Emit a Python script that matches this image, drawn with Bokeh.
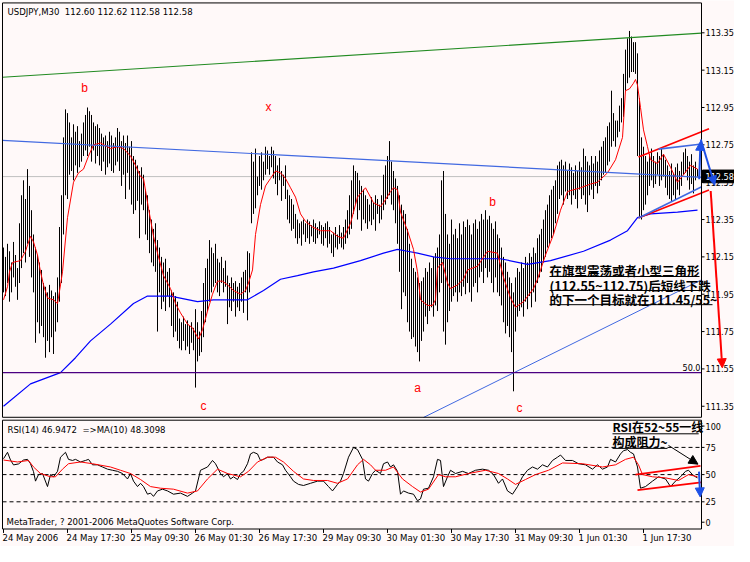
from bokeh.plotting import figure
from bokeh.models import Range1d, ColumnDataSource, Arrow, NormalHead
from bokeh.embed import file_html
from bokeh.resources import INLINE
from bokeh.core.properties import value

# ---------------- data ----------------
symbol = "USDJPY,M30"
quote = [112.60, 112.62, 112.58, 112.58]          # open high low close of last bar
rsi_last = 46.9472
rsima_last = 48.3098

highs = [
 112.20, 112.15, 112.22, 112.18, 112.12, 112.23, 112.16, 112.09, 112.33, 112.48,
 112.56, 112.46, 112.62, 112.53, 112.40, 112.27, 112.20, 112.16, 112.12, 112.08,
 112.01, 111.99, 111.96, 112.00, 111.97, 111.94, 111.96, 112.04, 112.31, 112.48,
 112.79, 112.94, 112.92, 112.87, 112.79, 112.86, 112.82, 112.85, 112.77, 112.81,
 112.87, 112.91, 112.95, 112.93, 112.91, 112.87, 112.85, 112.86, 112.84, 112.81,
 112.79, 112.80, 112.77, 112.82, 112.80, 112.76, 112.79, 112.84, 112.82, 112.77,
 112.80, 112.76, 112.80, 112.74, 112.77, 112.69, 112.67, 112.64, 112.61, 112.63,
 112.59, 112.51, 112.48, 112.40, 112.35, 112.30, 112.33, 112.24, 112.20, 112.15,
 112.12, 112.14, 112.07, 112.09, 111.97, 111.96, 111.94, 111.91, 111.82, 111.80,
 111.83, 111.79, 111.81, 111.78, 111.80, 111.77, 111.87, 111.80, 111.75, 111.86,
 112.01, 112.09, 112.14, 112.24, 112.20, 112.17, 112.22, 112.14, 112.12, 112.15,
 112.09, 112.13, 112.05, 112.01, 112.04, 112.01, 112.02, 111.99, 112.01, 112.04,
 112.07, 112.08, 112.18, 112.17, 112.71, 112.66, 112.73, 112.58, 112.69, 112.71,
 112.66, 112.74, 112.72, 112.69, 112.74, 112.72, 112.69, 112.64, 112.68, 112.61,
 112.59, 112.64, 112.51, 112.48, 112.46, 112.43, 112.38, 112.35, 112.33, 112.34,
 112.35, 112.33, 112.35, 112.34, 112.32, 112.35, 112.33, 112.31, 112.34, 112.32,
 112.31, 112.33, 112.34, 112.31, 112.27, 112.28, 112.31, 112.27, 112.32, 112.28,
 112.31, 112.35, 112.40, 112.48, 112.56, 112.64, 112.61, 112.60, 112.56, 112.53,
 112.51, 112.48, 112.46, 112.43, 112.47, 112.44, 112.48, 112.46, 112.43, 112.48,
 112.59, 112.64, 112.69, 112.77, 112.66, 112.61, 112.57, 112.53, 112.48, 112.43,
 112.40, 112.38, 112.30, 112.22, 112.14, 112.09, 112.07, 112.04, 112.01, 112.02,
 112.04, 112.09, 112.07, 112.12, 112.09, 112.15, 112.17, 112.20, 112.27, 112.56,
 112.61, 112.38, 112.27, 112.22, 112.35, 112.27, 112.30, 112.25, 112.33, 112.27,
 112.34, 112.31, 112.35, 112.32, 112.27, 112.33, 112.35, 112.30, 112.34, 112.38,
 112.35, 112.40, 112.35, 112.37, 112.33, 112.30, 112.34, 112.27, 112.25, 112.20,
 112.15, 112.12, 112.07, 112.04, 112.01, 111.96, 112.04, 112.09, 112.07, 112.12,
 112.09, 112.15, 112.12, 112.17, 112.15, 112.20, 112.17, 112.25, 112.27, 112.30,
 112.35, 112.40, 112.43, 112.48, 112.51, 112.53, 112.56, 112.64, 112.66, 112.67,
 112.64, 112.66, 112.61, 112.65, 112.63, 112.60, 112.64, 112.61, 112.66, 112.63,
 112.73, 112.69, 112.66, 112.64, 112.69, 112.65, 112.69, 112.66, 112.72, 112.74,
 112.77, 112.79, 112.85, 112.87, 113.04, 112.92, 112.88, 112.88, 112.96, 113.00,
 113.13, 113.26, 113.32, 113.36, 113.33, 113.30, 113.30, 113.24, 113.00, 112.79,
 112.74, 112.69, 112.66, 112.70, 112.73, 112.69, 112.66, 112.71, 112.69, 112.73,
 112.70, 112.67, 112.64, 112.61, 112.65, 112.60, 112.63, 112.65, 112.61, 112.66,
 112.71, 112.73, 112.69, 112.66, 112.70, 112.64, 112.66, 112.62]

lows = [
 111.96, 111.94, 112.01, 111.91, 111.96, 112.04, 111.99, 111.92, 112.01, 112.09,
 112.17, 112.12, 112.22, 112.15, 112.04, 111.96, 111.69, 111.80, 111.74, 111.78,
 111.72, 111.61, 111.70, 111.64, 111.72, 111.63, 111.75, 111.80, 111.91, 112.01,
 112.27, 112.48, 112.46, 112.59, 112.61, 112.56, 112.64, 112.60, 112.63, 112.66,
 112.69, 112.72, 112.69, 112.74, 112.66, 112.72, 112.65, 112.69, 112.64, 112.61,
 112.66, 112.59, 112.63, 112.65, 112.61, 112.60, 112.64, 112.66, 112.61, 112.53,
 112.59, 112.46, 112.60, 112.51, 112.43, 112.38, 112.40, 112.45, 112.25, 112.43,
 112.40, 112.27, 112.24, 112.17, 112.12, 112.10, 112.07, 111.75, 111.96, 111.87,
 111.91, 111.86, 111.94, 111.88, 111.78, 111.72, 111.75, 111.70, 111.66, 111.65,
 111.70, 111.65, 111.67, 111.63, 111.69, 111.65, 111.45, 111.59, 111.62, 111.64,
 111.72, 111.80, 111.86, 111.91, 111.96, 111.99, 112.01, 111.96, 111.94, 112.01,
 111.96, 111.99, 111.79, 111.88, 111.86, 111.91, 111.83, 111.88, 111.86, 111.91,
 111.85, 111.96, 111.81, 111.96, 112.33, 112.38, 112.41, 112.48, 112.53, 112.51,
 112.56, 112.59, 112.62, 112.59, 112.63, 112.57, 112.54, 112.48, 112.56, 112.45,
 112.53, 112.46, 112.35, 112.33, 112.29, 112.30, 112.25, 112.22, 112.25, 112.21,
 112.27, 112.23, 112.25, 112.22, 112.26, 112.23, 112.22, 112.25, 112.27, 112.22,
 112.21, 112.25, 112.20, 112.22, 112.17, 112.15, 112.20, 112.19, 112.22, 112.20,
 112.19, 112.22, 112.25, 112.27, 112.30, 112.38, 112.43, 112.35, 112.40, 112.29,
 112.35, 112.33, 112.30, 112.34, 112.32, 112.35, 112.29, 112.38, 112.33, 112.35,
 112.40, 112.43, 112.46, 112.48, 112.43, 112.40, 112.33, 112.22, 112.07, 111.87,
 111.96, 111.94, 111.80, 111.75, 111.71, 111.72, 111.67, 111.64, 111.59, 111.70,
 111.75, 111.83, 111.79, 111.86, 111.88, 111.83, 111.89, 111.86, 111.96, 112.01,
 111.75, 111.68, 111.80, 111.86, 111.91, 111.94, 111.96, 111.91, 111.96, 111.94,
 111.99, 111.95, 112.01, 111.96, 111.91, 111.99, 112.01, 111.96, 112.04, 112.07,
 112.01, 112.09, 112.04, 112.07, 112.01, 111.96, 112.04, 111.96, 111.94, 111.89,
 111.80, 111.74, 111.78, 111.72, 111.64, 111.43, 111.75, 111.83, 111.86, 111.88,
 111.83, 111.91, 111.87, 111.94, 111.88, 111.96, 111.91, 112.01, 112.04, 112.07,
 112.12, 112.15, 112.20, 112.22, 112.25, 112.27, 112.33, 112.38, 112.46, 112.48,
 112.43, 112.50, 112.46, 112.48, 112.43, 112.48, 112.46, 112.41, 112.51, 112.46,
 112.48, 112.43, 112.39, 112.48, 112.51, 112.46, 112.53, 112.49, 112.53, 112.56,
 112.59, 112.60, 112.64, 112.66, 112.74, 112.77, 112.74, 112.79, 112.82, 112.87,
 112.90, 113.04, 113.08, 113.11, 113.14, 113.14, 113.13, 112.69, 112.36, 112.35,
 112.40, 112.43, 112.48, 112.53, 112.56, 112.52, 112.54, 112.59, 112.53, 112.56,
 112.58, 112.52, 112.48, 112.46, 112.45, 112.48, 112.46, 112.51, 112.48, 112.53,
 112.59, 112.60, 112.56, 112.51, 112.54, 112.49, 112.56, 112.58]

# red moving average (bar index, price)
ma_red_i = [0, 2, 3, 4.5, 8.5, 11, 13.5, 15, 17, 18.5, 20, 22, 25, 27, 28.5, 29.5, 32, 35, 37.5, 40,
            42.5, 45, 48.5, 53.5, 57, 60, 63.5, 66, 68.5, 70, 72.5, 75, 77, 80, 83.5, 86, 88.5, 92, 94.5, 97.5,
            99.5, 102, 104.5, 107, 109.5, 112, 115, 118.5, 121, 122.5, 124.5, 126, 128.5, 131, 133.5, 136, 138.5, 141, 143.5, 146,
            148.5, 151, 154.5, 158.5, 163.5, 167, 170, 173.5, 177, 181, 185, 188.5, 190, 193.5, 195, 197, 198.5, 202, 205, 207,
            208.5, 212, 214.5, 216, 217, 219.5, 222, 223.5, 227, 230, 232, 237, 242, 247, 250, 253.5, 256, 260, 265, 267,
            271, 275, 278.5, 282, 288.5, 293.5, 297, 302, 306, 309.5, 311, 313, 315, 316, 317, 318.5, 320, 322, 323.5, 327,
            330, 333.5, 337, 340, 343.5, 347]
ma_red_v = [111.92, 111.99, 112.07, 112.12, 112.13, 112.18, 112.26, 112.23, 112.16, 112.07,
            112.00, 111.93, 111.92, 111.90, 112.00, 112.07, 112.36, 112.55, 112.60, 112.62,
            112.69, 112.75, 112.76, 112.73, 112.74, 112.73, 112.69, 112.64, 112.58, 112.57,
            112.41, 112.26, 112.17, 112.05, 111.98, 111.90, 111.85, 111.79, 111.77, 111.71,
            111.76, 111.86, 111.95, 112.02, 112.02, 112.00, 111.97, 111.95, 111.97, 112.01,
            112.08, 112.27, 112.43, 112.53, 112.57, 112.61, 112.60, 112.57, 112.52, 112.47,
            112.38, 112.34, 112.31, 112.29, 112.29, 112.26, 112.25, 112.33, 112.47, 112.52,
            112.44, 112.42, 112.44, 112.50, 112.52, 112.51, 112.39, 112.29, 112.19, 112.07,
            111.92, 111.89, 111.89, 111.92, 112.09, 112.12, 112.01, 111.98, 112.00, 112.03,
            112.08, 112.10, 112.18, 112.17, 112.04, 111.93, 111.88, 111.91, 111.98, 112.03,
            112.16, 112.27, 112.40, 112.50, 112.52, 112.54, 112.55, 112.60, 112.67, 112.79,
            113.04, 113.05, 113.08, 113.10, 113.07, 112.95, 112.83, 112.74, 112.67, 112.65,
            112.70, 112.63, 112.55, 112.59, 112.64, 112.62]

# blue (slow) moving average
ma_blue_i = [0, 13.5, 28.5, 36, 43.5, 53.5, 65, 72, 83.5, 97, 105, 122, 130, 138.5, 147, 155, 165, 178.5,
             190, 197, 202, 207, 215, 223.5, 240, 248.5, 262, 273.5, 290, 303.5, 312, 317, 323.5, 337, 347]
ma_blue_v = [111.35, 111.47, 111.53, 111.61, 111.70, 111.79, 111.90, 111.94, 111.94, 111.91, 111.92, 111.92,
             111.97, 112.03, 112.05, 112.07, 112.09, 112.13, 112.17, 112.19, 112.18, 112.17, 112.15, 112.14,
             112.14, 112.14, 112.11, 112.13, 112.18, 112.24, 112.29, 112.36, 112.38, 112.39, 112.40]

# RSI(14)
rsi_i = [0, 2, 3.5, 5, 7.5, 10, 12, 13.5, 15, 16, 17.5, 19.5, 22, 23.5, 25, 27, 28.5, 31, 32.5, 34.5,
         36, 38.5, 41, 42.5, 44.5, 47, 49.5, 52, 54.5, 57, 59.5, 62, 63.5, 65, 67, 68.5, 70, 72, 73.5, 75,
         77, 79.5, 82, 85, 88.5, 92, 94.5, 96, 98.5, 102, 104.5, 106, 108.5, 110, 112, 113.5, 115, 117, 118.5, 120,
         122, 123.5, 125, 127, 128.5, 130, 132, 133.5, 135, 137, 139.5, 141, 143.5, 145, 147.5, 150, 153.5, 157, 160, 162.5,
         164.5, 167, 168.5, 170, 172.5, 175, 177, 179.5, 181, 182.5, 184.5, 186, 188.5, 190, 192, 193.5, 195, 197, 198.5, 200,
         202.5, 205, 207, 208.5, 210, 212.5, 215, 217, 218.5, 220, 222, 223.5, 226, 229.5, 232.5, 236, 239.5, 242.5, 245, 247.5,
         249.5, 252, 254.5, 257, 259.5, 262, 264.5, 267, 269.5, 272, 274.5, 277, 278.5, 281, 284.5, 287.5, 291, 294.5, 297, 299.5,
         302, 303.5, 306, 308.5, 310, 312, 313.5, 315, 317, 318.5, 321, 324.5, 327.5, 331, 333.5, 336, 338.5, 341, 342.5, 344.5,
         346, 347]
rsi_v = [64.6, 70.5, 63.4, 58.9, 59.8, 63.4, 64, 60, 52.7, 44, 50, 51, 39, 50, 48, 53, 66, 70.5, 64, 63,
         64, 61.6, 63, 64, 59, 59, 57, 55, 54, 53, 51, 46, 51, 44, 39, 42, 39, 32, 33, 30,
         35, 36.6, 35, 32, 33, 30, 33, 35, 54, 57, 63, 60, 51, 48, 51, 46, 48, 45.5, 51, 53,
         60, 69, 70.5, 69, 63, 64, 66, 66, 66, 61.6, 59, 54, 48, 44, 41, 40, 42, 44, 44, 39,
         35, 41, 44, 51, 66, 75, 73, 64, 46, 44, 51, 54, 51, 60, 61.6, 57, 59, 53, 32, 35,
         33, 32, 26, 27.7, 36.6, 37.5, 48, 64, 63, 39, 48, 54, 51, 53, 51, 54, 55, 54, 50, 42,
         46, 35, 32, 39, 48, 54, 57, 55, 59, 57, 63, 66, 68, 63, 63, 60, 59, 55, 59, 55,
         57, 64, 61.6, 69, 72, 73, 70.5, 69, 57, 37.5, 39, 44, 48, 46, 39, 44, 48, 53, 54, 50,
         48, 47]

# MA(10) of RSI
rsima_i = [0, 7, 12.5, 15, 18.5, 23.5, 26, 29.5, 32.5, 38.5, 44.5, 53.5, 58.5, 63.5, 68.5, 73.5, 78.5, 85, 92, 97,
           102, 107, 112, 118.5, 122.5, 127, 132, 136, 140, 145, 150, 155, 162, 167, 172, 177, 180, 183.5, 186, 191,
           195, 199.5, 204.5, 208.5, 212.5, 217.5, 221, 226, 232.5, 241, 247.5, 252, 256, 261, 266, 272.5, 279.5, 289.5, 299.5, 306,
           311, 315, 317.5, 319.5, 324.5, 331, 337.5, 342.5, 347]
rsima_v = [63.4, 61.6, 63, 57, 51, 48, 48, 55, 60, 61.6, 60, 57, 54, 51, 45.5, 39, 37.5, 36.6, 33, 35,
           46, 55, 51, 48, 53, 61.6, 66, 66, 61.6, 53, 46, 44.6, 44.6, 42, 46, 59, 64, 59, 54, 54,
           57, 46, 39, 34, 36.6, 50, 48, 48, 51, 54, 51, 46, 41, 45.5, 50, 54, 60.7, 60, 57, 59,
           64, 66, 59, 50, 48, 47, 44.6, 50, 48]

price_ticks = [111.35, 111.55, 111.75, 111.95, 112.15, 112.35, 112.55, 112.75, 112.95, 113.15, 113.35]
price_tick_labels = ["111.35", "111.55", "111.75", "111.95", "112.15", "112.35",
                     "112.55", "112.75", "112.95", "113.15", "113.35"]
rsi_levels = [25, 50, 75]
rsi_axis_labels = ["100", "75", "50", "25", "0"]
time_ticks = [0, 32, 64, 96, 128, 160, 192, 224, 256, 288, 320]
time_labels = ["24 May 2006", "24 May 17:30", "25 May 09:30", "26 May 01:30", "26 May 17:30",
               "29 May 09:30", "30 May 01:30", "30 May 17:30", "31 May 09:30", "1 Jun 01:30", "1 Jun 17:30"]
fibo_level = 111.53
fibo_label = "50.0"
wave_labels = ["b", "x", "c", "a", "b", "c"]
wave_i = [40.5, 132.5, 100, 207, 244.5, 258]
wave_p = [113.055, 112.951, 111.353, 111.447, 112.446, 111.343]
note_main = ["在旗型震荡或者小型三角形", "(112.55~112.75)后短线下跌", "的下一个目标就在111.45/55~"]
note_rsi = ["RSI在52~55一线", "构成阻力~"]

# ---------------- styling ----------------
BG = "#FFF9F9"
UI = value("DejaVu Sans Condensed")
CJK = value("Noto Sans CJK SC")
LAT = value("Liberation Sans")

W, H = 734, 546
p = figure(width=W, height=H, x_range=Range1d(-1.5, 365.5), y_range=Range1d(110.599, 113.523),
           output_backend="svg", toolbar_location=None, title=None,
           x_axis_location=None, y_axis_location=None,
           min_border_left=0, min_border_right=0, min_border_top=0, min_border_bottom=0,
           background_fill_color=BG, border_fill_color=BG, outline_line_color=None)
p.extra_y_ranges = {"rsi": Range1d(-16.07, 485.7)}
p.grid.visible = False

L, R = -0.5, 349   # panel left/right edges in bar units
LAB = 351          # start of scale labels

# ---- main price panel ----
p.line([L, R], [quote[3], quote[3]], line_color="#C0C0C0", line_width=1)

src = ColumnDataSource(dict(i=list(range(len(highs))), high=highs, low=lows))
p.segment(x0="i", y0="low", x1="i", y1="high", source=src, line_color="black", line_width=1)

p.line(ma_blue_i, ma_blue_v, line_color="#0000FF", line_width=1.2)
p.line(ma_red_i, ma_red_v, line_color="#FF0000", line_width=1)

# drawn objects
p.line([L, R], [113.112, 113.348], line_color="#228B22", line_width=1.2)
p.line([L, R], [112.774, 112.576], line_color="#4169E1", line_width=1.2)
p.line([210, R], [111.29, 112.027], line_color="#4169E1", line_width=1)
p.line([L, R], [fibo_level, fibo_level], line_color="#4B0082", line_width=1.3)
p.text(x=[348.5], y=[fibo_level + 0.01], text=[fibo_label], text_font=UI, text_font_size="9px",
       text_align="right", text_baseline="bottom", text_color="black")

p.line([317.5, 352.75], [112.685, 112.836], line_color="red", line_width=1.6)
p.line([317.5, 352.75], [112.358, 112.508], line_color="red", line_width=1.6)
p.line([317.5, 348.85], [112.358, 112.524], line_color="#4169E1", line_width=1.6)
p.line([327.5, 348.05], [112.727, 112.753], line_color="#4169E1", line_width=1.6)

# panel border
p.quad(left=[L], right=[R], top=[113.51], bottom=[111.291], fill_color=None, line_color="black", line_width=1)

# price scale
n = len(price_ticks)
p.segment(x0=[R] * n, y0=price_ticks, x1=[R + 1.5] * n, y1=price_ticks, line_color="black", line_width=1)
p.text(x=[LAB] * n, y=price_ticks, text=price_tick_labels, text_font=UI, text_font_size="9px",
       text_align="left", text_baseline="middle", text_color="black")
p.quad(left=[349.5], right=[365.5], top=[112.615], bottom=[112.547], fill_color="black", line_color="black")
p.text(x=[LAB], y=[quote[3]], text=[f"{quote[3]:.2f}"], text_font=UI, text_font_size="9px",
       text_align="left", text_baseline="middle", text_color="white")

# header
p.text(x=[2], y=[113.466],
       text=[f"{symbol}\u00a0 {quote[0]:.2f} {quote[1]:.2f} {quote[2]:.2f} {quote[3]:.2f}"],
       text_font=UI, text_font_size="9.5px", text_align="left", text_baseline="middle", text_color="black")

# wave labels
p.text(x=wave_i, y=wave_p, text=wave_labels, text_font=LAT, text_font_size="12px",
       text_align="center", text_baseline="middle", text_color="red")

# Chinese note
p.text(x=[273] * 3, y=[112.079, 111.999, 111.921], text=note_main, text_font=CJK, text_font_size="12.5px",
       text_font_style="bold", text_align="left", text_baseline="middle", text_color="black")
p.segment(x0=[273, 273, 273], y0=[112.045, 111.970, 111.894], x1=[348, 349.5, 354.5],
          y1=[112.045, 111.970, 111.894], line_color="black", line_width=1)

def arrow(x0, y0, x1, y1, color, rng="default", width=2, size=9):
    p.add_layout(Arrow(end=NormalHead(size=size, fill_color=color, line_color=color, line_width=1),
                       x_start=x0, y_start=y0, x_end=x1, y_end=y1, y_range_name=rng,
                       line_color=color, line_width=width))

arrow(353.6, 112.503, 359.4, 111.556, "red")
arrow(347.85, 112.566, 348.5, 112.769, "#1E50E6")
arrow(348.65, 112.779, 355.6, 112.534, "#1E50E6")

# ---- RSI panel ----
for lv in rsi_levels:
    p.line([L, R], [lv, lv], y_range_name="rsi", line_color="black", line_dash="4 3", line_width=1)

p.line(rsi_i, rsi_v, y_range_name="rsi", line_color="black", line_width=1)
p.line(rsima_i, rsima_v, y_range_name="rsi", line_color="#FF0000", line_width=1)

p.line([316, 348.5], [50, 58], y_range_name="rsi", line_color="red", line_width=1.6)
p.line([317, 348.85], [35.7, 42.9], y_range_name="rsi", line_color="red", line_width=1.6)

p.quad(left=[L], right=[R], top=[100], bottom=[0], y_range_name="rsi",
       fill_color=None, line_color="black", line_width=1)

rsi_label_pos = [94.6, 75, 50, 25, 6.25]
p.segment(x0=[R] * 5, y0=rsi_label_pos, x1=[R + 1.5] * 5, y1=rsi_label_pos, y_range_name="rsi",
          line_color="black", line_width=1)
p.text(x=[LAB] * 5, y=rsi_label_pos, text=rsi_axis_labels, y_range_name="rsi", text_font=UI,
       text_font_size="9px", text_align="left", text_baseline="middle", text_color="black")

m = len(time_ticks)
p.segment(x0=time_ticks, y0=[0] * m, x1=time_ticks, y1=[-3.6] * m, y_range_name="rsi",
          line_color="black", line_width=1)
p.text(x=[t - 0.5 for t in time_ticks], y=[-8.0] * m, text=time_labels, y_range_name="rsi",
       text_font=UI, text_font_size="9.5px", text_align="left", text_baseline="middle", text_color="black")

p.text(x=[2], y=[91.5], text=[f"RSI(14) {rsi_last:.4f}\u00a0 =>MA(10) {rsima_last:.4f}"], y_range_name="rsi",
       text_font=UI, text_font_size="9.5px", text_align="left", text_baseline="middle", text_color="black")
p.text(x=[1.5], y=[6.5], text=["MetaTrader, ? 2001-2006 MetaQuotes Software Corp."], y_range_name="rsi",
       text_font=UI, text_font_size="9.5px", text_align="left", text_baseline="middle", text_color="black")

p.text(x=[304.5, 304.5], y=[93.75, 80.4], text=note_rsi, y_range_name="rsi", text_font=CJK,
       text_font_size="12px", text_font_style="bold", text_align="left", text_baseline="middle",
       text_color="black")
p.segment(x0=[304.5, 304.5], y0=[87.5, 74.1], x1=[347.6, 332], y1=[87.5, 74.1], y_range_name="rsi",
          line_color="black", line_width=1)

arrow(332.5, 76.8, 347.25, 59.6, "black", rng="rsi", width=1, size=9)
arrow(347.75, 52.7, 348.35, 29.5, "#1E50E6", rng="rsi", width=2, size=9)

open("out.html", "w").write(file_html(p, INLINE))
